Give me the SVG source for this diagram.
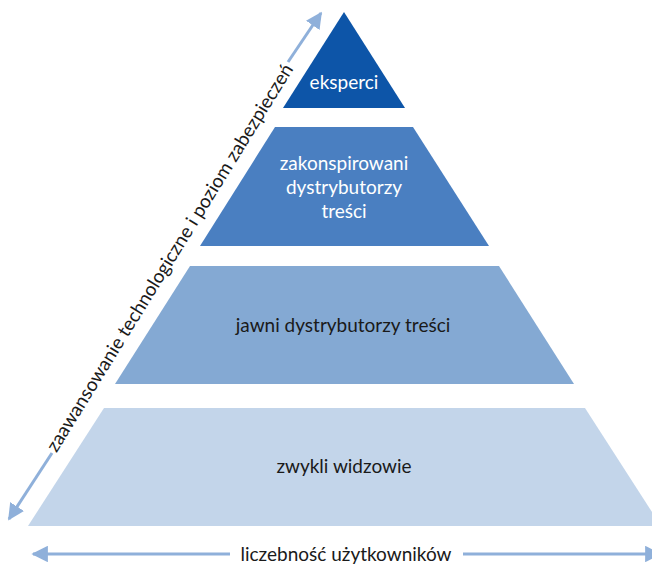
<svg xmlns="http://www.w3.org/2000/svg" width="652" height="566" viewBox="0 0 652 566">
<defs>
<style>
.lbl{font-family:Lato,"Open Sans","Liberation Sans",sans-serif;font-size:19px;text-anchor:middle}
.w{fill:#ffffff}
.d{fill:#1a1a1a}
.ax{stroke:#8fb0da;stroke-width:3;fill:none}
</style>
<marker id="ah" viewBox="0 0 10 10" refX="9" refY="5" markerWidth="5.5" markerHeight="5.5" markerUnits="strokeWidth" orient="auto">
<path d="M0,0 L10,5 L0,10 Z" fill="#8fb0da"/>
</marker>
</defs>
<rect width="652" height="566" fill="#ffffff"/>
<g id="level-eksperci">
<polygon points="344,12 283,108 405,108" fill="#0d55a8"/>
<text class="lbl w" x="344" y="89">eksperci</text>
</g>
<g id="level-zakonspirowani">
<polygon points="275,127 413,127 489,246 200,246" fill="#4a7fc1"/>
<text class="lbl w" x="344" y="170">zakonspirowani</text>
<text class="lbl w" x="344" y="194">dystrybutorzy</text>
<text class="lbl w" x="344" y="218">treści</text>
</g>
<g id="level-jawni">
<polygon points="190,266 499,266 574,384 115,384" fill="#84a9d3"/>
<text class="lbl d" x="343" y="332">jawni dystrybutorzy treści</text>
</g>
<g id="level-widzowie">
<polygon points="104,408 585,408 661,526 28,526" fill="#c3d5ea"/>
<text class="lbl d" x="344" y="473">zwykli widzowie</text>
</g>
<g id="connectors">
<line class="ax" x1="52" y1="453" x2="9" y2="519" marker-end="url(#ah)"/>
<line class="ax" x1="288" y1="62" x2="321" y2="13" marker-end="url(#ah)"/>
<line class="ax" x1="230" y1="554" x2="33" y2="554" marker-end="url(#ah)"/>
<line class="ax" x1="463" y1="554" x2="660" y2="554" marker-end="url(#ah)"/>
</g>
<g id="axis-labels">
<text class="lbl d" transform="translate(170,258) rotate(-58.3)" x="0" y="6">zaawansowanie technologiczne i poziom zabezpieczeń</text>
<text class="lbl d" x="346" y="561">liczebność użytkowników</text>
</g>
</svg>
